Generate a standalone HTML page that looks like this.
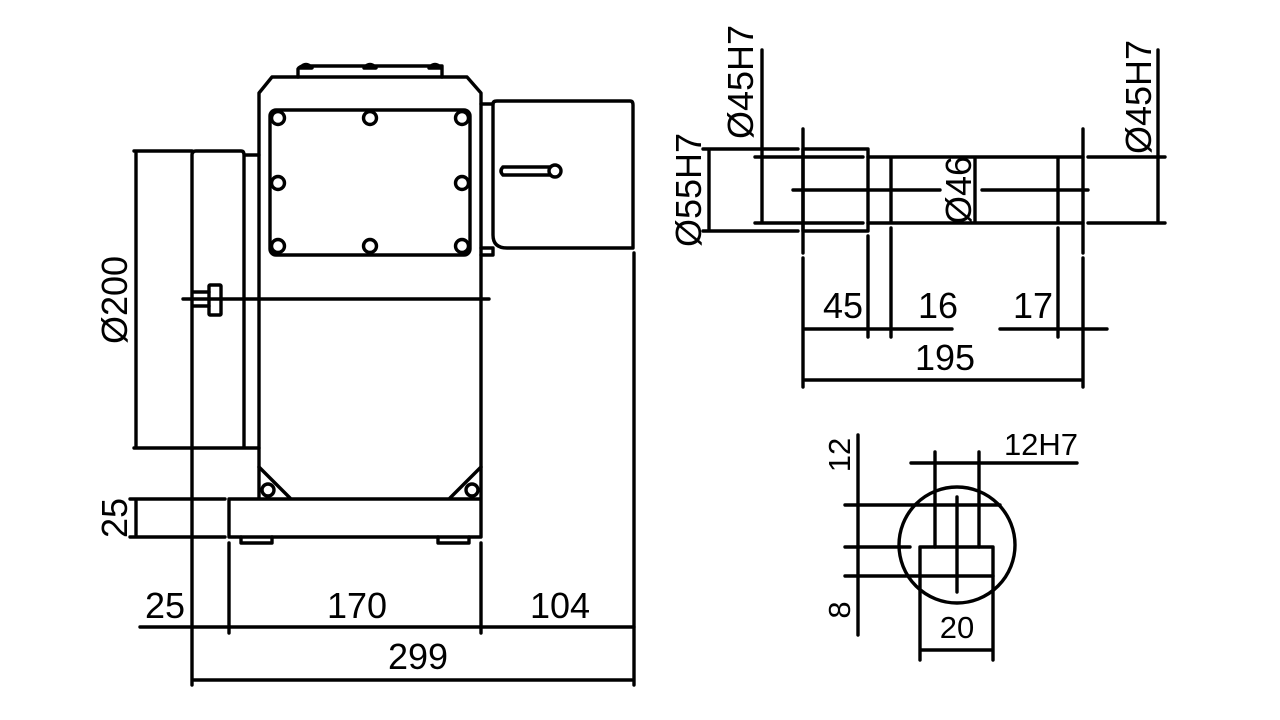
<!DOCTYPE html>
<html><head><meta charset="utf-8"><style>
html,body{margin:0;padding:0;background:#fff;}
svg{display:block}
text{font-family:"Liberation Sans","DejaVu Sans",sans-serif;font-size:36px;fill:#000}
</style></head><body>
<svg width="1280" height="720" viewBox="0 0 1280 720" xmlns="http://www.w3.org/2000/svg">
<g fill="none" stroke="#000" stroke-width="3.4" stroke-linecap="round" stroke-linejoin="round">
<!-- top plate -->
<path d="M298 77 V69 Q300 66 304 66 H442 V77"/>
<path d="M300 68 Q306 61 312 68 Z M364 68 Q370 61 376 68 Z M429 68 Q435 61 441 68 Z" fill="#000"/>
<!-- housing -->
<path d="M259 498 V93 L272 77 H467 L481 93 V498"/>
<path d="M259 467 L290 498 M481 467 L450 498"/>
<circle cx="268" cy="490" r="6"/><circle cx="472" cy="490" r="6"/>
<!-- inner panel -->
<rect x="270" y="110" width="200" height="145" rx="6"/>
<circle cx="278" cy="118" r="6.5"/><circle cx="370" cy="118" r="6.5"/><circle cx="462" cy="118" r="6.5"/>
<circle cx="278" cy="183" r="6.5"/><circle cx="462" cy="183" r="6.5"/>
<circle cx="278" cy="246" r="6.5"/><circle cx="370" cy="246" r="6.5"/><circle cx="462" cy="246" r="6.5"/>
<!-- motor -->
<path d="M481 104 H493 M481 248 H493 V255 H481"/>
<path d="M493 104 Q493 101 497 101 H630 Q633 101 633 105 V248 H507 Q493 248 493 235 V104"/>
<path d="M503 167 H550 M503 175 H550 M503 167 Q499 171 503 175"/>
<circle cx="555" cy="171" r="6"/>
<line x1="634" y1="253" x2="634" y2="685"/>
<!-- left cylinder -->
<path d="M192 448 V155 Q192 151 196 151 H241 Q244 151 244 155 V448 M244 155 H259 M192 448 H259"/>
<line x1="134" y1="151" x2="192" y2="151"/>
<line x1="134" y1="448" x2="192" y2="448"/>
<line x1="136" y1="153" x2="136" y2="446"/>
<rect x="209" y="285" width="12" height="30" rx="1"/>
<path d="M193 292 H209 M193 306 H209"/>
<line x1="183" y1="299" x2="489" y2="299"/>
<!-- base -->
<path d="M229 537 V499 H259 M229 537 H481 V499 H259"/>
<path d="M241 537 V543 H272 V537 M438 537 V543 H469 V537"/>
<line x1="130" y1="499" x2="225" y2="499"/>
<line x1="130" y1="537" x2="225" y2="537"/>
<line x1="136" y1="501" x2="136" y2="535"/>
<line x1="192" y1="448" x2="192" y2="685"/>
<line x1="229" y1="543" x2="229" y2="633"/>
<line x1="481" y1="543" x2="481" y2="633"/>
<line x1="140" y1="627" x2="634" y2="627"/>
<line x1="194" y1="680" x2="632" y2="680"/>

<!-- shaft view -->
<rect x="803" y="149" width="65" height="82"/>
<path d="M868 157 H1083 M868 223 H1083 M891 157 V223 M1058 157 V223"/>
<path d="M1088 157 H1165 M1088 223 H1165"/>
<path d="M703 149 H798 M703 231 H798 M755 157 H863 M755 223 H863"/>
<path d="M709 151 V229 M762 50 V221 M1158 50 V221 M975 159 V221"/>
<path d="M793 190 H940 M982 190 H1088"/>
<path d="M803 129 V253 M803 258 V387 M1083 129 V253 M1083 258 V387"/>
<path d="M868 236 V337 M891 228 V337 M1058 228 V337"/>
<path d="M805 329 H866 M870 329 H889 M893 329 H952 M1000 329 H1056 M1060 329 H1081 M1085 329 H1107"/>
<line x1="805" y1="380" x2="1081" y2="380"/>

<!-- key view -->
<circle cx="957" cy="545" r="58"/>
<rect x="920" y="547" width="73" height="29"/>
<path d="M935 452 V547 M979 452 V547 M957 497 V592"/>
<path d="M911 463 H933 M981 463 H1077 M935 463 H979"/>
<path d="M858 435 V635 M845 505 H1000 M845 547 H910 M845 576 H920"/>
<path d="M920 576 V660 M993 576 V660 M922 650 H991"/>
</g>
<g>
<text x="165" y="618" text-anchor="middle">25</text>
<text x="357" y="618" text-anchor="middle">170</text>
<text x="560" y="618" text-anchor="middle">104</text>
<text x="418" y="669" text-anchor="middle">299</text>
<text transform="translate(127,300) rotate(-90)" text-anchor="middle">Ø200</text>
<text transform="translate(127,518) rotate(-90)" text-anchor="middle">25</text>
<text transform="translate(701,190) rotate(-90)" text-anchor="middle">Ø55H7</text>
<text transform="translate(753,82) rotate(-90)" text-anchor="middle">Ø45H7</text>
<text transform="translate(1151,97) rotate(-90)" text-anchor="middle">Ø45H7</text>
<text transform="translate(971,190) rotate(-90)" text-anchor="middle">Ø46</text>
<text x="843" y="318" text-anchor="middle">45</text>
<text x="938" y="318" text-anchor="middle">16</text>
<text x="1033" y="318" text-anchor="middle">17</text>
<text x="945" y="370" text-anchor="middle">195</text>
<text x="1041" y="455" text-anchor="middle" style="font-size:31px">12H7</text>
<text transform="translate(850,455) rotate(-90)" text-anchor="middle" style="font-size:31px">12</text>
<text transform="translate(850,610) rotate(-90)" text-anchor="middle" style="font-size:31px">8</text>
<text x="957" y="638" text-anchor="middle" style="font-size:31px">20</text>
</g>
</svg>
</body></html>
